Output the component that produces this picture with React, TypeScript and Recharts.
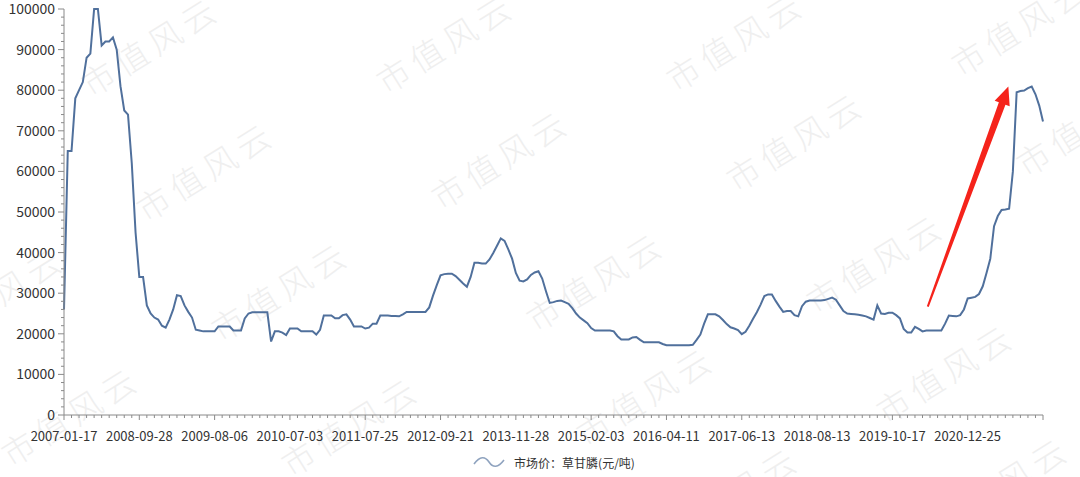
import { LineChart, Line, XAxis, YAxis, Legend, ReferenceLine } from "recharts";

// date labels shown every 10 minor ticks on the category axis
const dateLabels = [
  "2007-01-17", "2008-09-28", "2009-08-06", "2010-07-03", "2011-07-25",
  "2012-09-21", "2013-11-28", "2015-02-03", "2016-04-11", "2017-06-13",
  "2018-08-13", "2019-10-17", "2020-12-25",
];

// glyphosate market price (yuan/ton), sampled every half minor tick
const prices = [
  26000, 65000, 65000, 78000, 80000, 82000, 88000, 89000, 100000, 100000,
  91000, 92000, 92000, 93000, 90000, 81000, 75000, 74000, 62000, 45000,
  34000, 34000, 27000, 25000, 24000, 23500, 22000, 21500, 23500, 26000,
  29500, 29300, 27000, 25400, 24000, 21000, 20800, 20600, 20600, 20600,
  20600, 21800, 21800, 21800, 21800, 20800, 20800, 20800, 23800, 25000,
  25300, 25300, 25300, 25300, 25300, 18100, 20600, 20600, 20300, 19700,
  21300, 21300, 21300, 20600, 20600, 20600, 20600, 19800, 21000, 24500,
  24500, 24500, 23800, 23800, 24600, 24800, 23500, 21800, 21800, 21800,
  21300, 21500, 22500, 22500, 24500, 24500, 24500, 24400, 24400, 24300,
  24800, 25400, 25400, 25400, 25400, 25400, 25400, 26500, 29400, 32000,
  34400, 34700, 34800, 34800, 34200, 33300, 32400, 31600, 34000, 37500,
  37500, 37300, 37300, 38300, 39900, 41700, 43500, 42900, 40800, 38500,
  35000, 33100, 32900, 33400, 34500, 35100, 35400, 33600, 30500, 27600,
  27800, 28100, 28200, 27800, 27400, 26300, 25000, 24000, 23300, 22600,
  21400, 20800, 20800, 20800, 20800, 20800, 20600, 19400, 18600, 18600,
  18600, 19100, 19200, 18500, 17900, 17900, 17900, 17900, 17900, 17500,
  17200, 17200, 17200, 17200, 17200, 17200, 17200, 17300, 18500, 19800,
  22500, 24800, 24800, 24800, 24300, 23400, 22400, 21600, 21300, 20900,
  19900, 20500, 22000, 23700, 25300, 27200, 29300, 29700, 29700, 28100,
  26700, 25400, 25600, 25600, 24600, 24300, 26800, 27900, 28200, 28200,
  28200, 28200, 28300, 28600, 28900, 28400, 27000, 25600, 25000, 24900,
  24800, 24700, 24500, 24300, 23900, 23500, 27000, 25000, 24900, 25200,
  25200, 24600, 23800, 21200, 20300, 20300, 21700, 21200, 20600, 20800,
  20800, 20800, 20800, 20800, 22500, 24500, 24400, 24300, 24600, 26000,
  28700, 28900, 29100, 29800, 31700, 35000, 38500, 46500, 49000, 50500,
  50600, 50800, 60000, 79500, 79800, 79900, 80500, 80900, 79000, 76200,
  72300,
];

const yLabels = [0, 10000, 20000, 30000, 40000, 50000, 60000, 70000, 80000, 90000, 100000];

// red annotation arrow, in axis units (start -> tip)
const arrowFrom = { x: 114.7, y: 26700 };
const arrowTo = { x: 125.4, y: 80900 };

const watermarks = [
  [150, 45], [445, 42], [735, 40], [1020, 25],
  [205, 170], [500, 158], [795, 140], [1085, 125],
  [-5, 295], [280, 290], [595, 280], [875, 262],
  [70, 415], [350, 425], [645, 395], [945, 372],
  [730, 495], [1000, 485],
];

const data = prices.map((p, i) => ({ t: i / 2, price: p }));
const xTicks = Array.from({ length: 131 }, (_, i) => i);
const yTicks = Array.from({ length: 51 }, (_, i) => i * 2000);

const axisColor = "#8a8a8a";
const textColor = "#333";

const XTick = (props: any) => {
  const { x, y, payload } = props;
  const v = payload.value;
  const major = v % 10 === 0;
  const label = major ? dateLabels[v / 10] : undefined;
  return (
    <g>
      <line x1={x} x2={x} y1={y} y2={y + (major ? 5 : 3)} stroke={axisColor} />
      {label && (
        <text x={x} y={y + 26} textAnchor="middle" fontSize={13} fill={textColor}>
          {label}
        </text>
      )}
    </g>
  );
};

const YTick = (props: any) => {
  const { x, y, payload } = props;
  const v = payload.value;
  const major = yLabels.includes(v);
  return (
    <g>
      <line x1={x - (major ? 6 : 3)} x2={x} y1={y} y2={y} stroke={axisColor} />
      {major && (
        <text x={x - 9} y={y + 5} textAnchor="end" fontSize={14} fill={textColor}>
          {v}
        </text>
      )}
    </g>
  );
};

const Arrow = (props: any) => {
  const { x1, y1, x2, y2 } = props;
  const dx = x2 - x1;
  const dy = y2 - y1;
  const len = Math.sqrt(dx * dx + dy * dy);
  const ux = dx / len;
  const uy = dy / len;
  const nx = -uy;
  const ny = ux;
  const headLen = 18;
  const bx = x2 - ux * headLen;
  const by = y2 - uy * headLen;
  const pt = (px: number, py: number, w: number) => `${px + nx * w},${py + ny * w}`;
  const pts = [
    pt(x1, y1, 1),
    pt(bx, by, 3.5),
    pt(bx, by, 8),
    `${x2},${y2}`,
    pt(bx, by, -8),
    pt(bx, by, -3.5),
    pt(x1, y1, -1),
  ].join(" ");
  return <polygon points={pts} fill="#f5231b" />;
};

const LegendContent = () => (
  <div
    style={{
      height: 30,
      paddingTop: 2,
      display: "flex",
      justifyContent: "center",
      alignItems: "center",
      fontSize: 12,
      color: textColor,
    }}
  >
    <svg width={34} height={14} style={{ marginRight: 8 }}>
      <path d="M2,9 C8,1 13,1 17,7 C21,13 26,13 32,5" fill="none" stroke="#8fa3bf" strokeWidth={1.6} />
    </svg>
    <span>市场价：草甘膦(元/吨)</span>
  </div>
);

export default function App() {
  return (
    <div
      style={{
        position: "absolute",
        left: 0,
        top: 0,
        width: 1080,
        height: 477,
        background: "#fff",
        fontFamily: "'Noto Sans CJK SC', 'Noto Sans', sans-serif",
      }}
    >
      <svg width={1080} height={477} style={{ position: "absolute", left: 0, top: 0 }}>
        {watermarks.map(([cx, cy], i) => (
          <text
            key={i}
            x={cx}
            y={cy}
            textAnchor="middle"
            dominantBaseline="central"
            fontSize={33}
            fontWeight={300}
            fill="#efefef"
            fontFamily="'Noto Sans CJK SC', sans-serif"
            letterSpacing={6}
            transform={`rotate(-32 ${cx} ${cy})`}
          >
            市值风云
          </text>
        ))}
      </svg>
      <div style={{ position: "absolute", left: 0, top: 0 }}>
        <LineChart width={1080} height={477} data={data} margin={{ top: 9, right: 37, left: 0, bottom: 0 }}>
          <XAxis
            dataKey="t"
            type="number"
            domain={[0, 130]}
            ticks={xTicks}
            interval={0}
            tick={<XTick />}
            tickLine={false}
            tickSize={0}
            tickMargin={0}
            height={30}
            stroke={axisColor}
          />
          <YAxis
            type="number"
            domain={[0, 100000]}
            ticks={yTicks}
            interval={0}
            tick={<YTick />}
            tickLine={false}
            tickSize={0}
            tickMargin={0}
            width={64}
            stroke={axisColor}
          />
          <Legend
            verticalAlign="bottom"
            content={<LegendContent />}
            wrapperStyle={{ left: 64, width: 979 }}
          />
          <Line
            type="linear"
            dataKey="price"
            name="市场价：草甘膦(元/吨)"
            stroke="#50709c"
            strokeWidth={2}
            dot={false}
            isAnimationActive={false}
          />
          <ReferenceLine
            segment={[arrowFrom, arrowTo]}
            ifOverflow="visible"
            shape={<Arrow />}
          />
        </LineChart>
      </div>
    </div>
  );
}
